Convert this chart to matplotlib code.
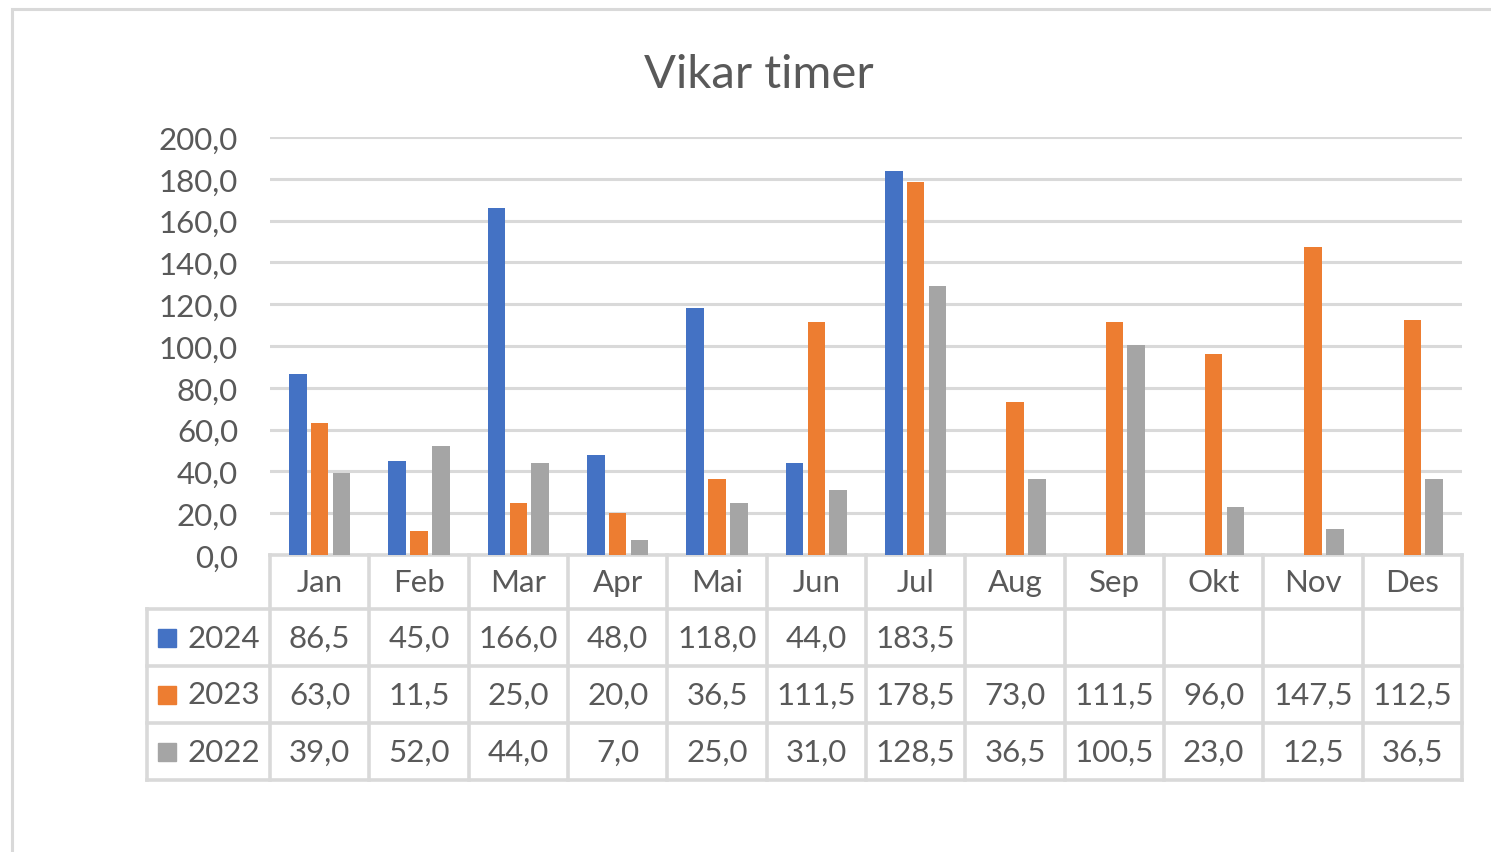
import matplotlib
matplotlib.use("Agg")
import matplotlib.pyplot as plt
import matplotlib.transforms as mtransforms
from matplotlib.patches import Rectangle
import numpy as np

plt.rcParams['font.family'] = ['Lato', 'DejaVu Sans']

# data
months = ["Jan", "Feb", "Mar", "Apr", "Mai", "Jun", "Jul", "Aug", "Sep", "Okt", "Nov", "Des"]
years = ["2024", "2023", "2022"]
v2024 = [86.5, 45.0, 166.0, 48.0, 118.0, 44.0, 183.5, None, None, None, None, None]
v2023 = [63.0, 11.5, 25.0, 20.0, 36.5, 111.5, 178.5, 73.0, 111.5, 96.0, 147.5, 112.5]
v2022 = [39.0, 52.0, 44.0, 7.0, 25.0, 31.0, 128.5, 36.5, 100.5, 23.0, 12.5, 36.5]
series = [v2024, v2023, v2022]
colors = ['#4472C4', '#ED7D31', '#A5A5A5']

txt = '#595959'
grid = '#D9D9D9'
W, H = 1491, 853
fs = 22.5

fig = plt.figure(figsize=(W / 100, H / 100), dpi=100)

# outer chart frame
fig.patches.append(Rectangle((12 / W, -0.1), 1.2, 1 - 10 / H + 0.1, transform=fig.transFigure,
                             fill=False, edgecolor=grid, linewidth=2.2))

ax = fig.add_axes([270 / W, (H - 556) / H, 1192 / W, (556 - 138) / H])
x = np.arange(len(months))
bw = 0.175
offs = [-0.22, 0.0, 0.22]
for vals, c, o in zip(series, colors, offs):
    h = [v if v is not None else 0 for v in vals]
    ax.bar(x + o, h, width=bw, color=c, zorder=3)

ax.set_xlim(-0.5, len(months) - 0.5)
ax.set_ylim(0, 200)
ax.set_yticks(np.arange(0, 201, 20))
ax.set_yticklabels([f"{t:.1f}".replace('.', ',') for t in np.arange(0, 201, 20)],
                   fontsize=fs, color=txt)
ax.tick_params(axis='y', length=0, pad=23)
ax.set_xticks([])
ax.grid(axis='y', color=grid, linewidth=2.2, zorder=0)
for s in ax.spines.values():
    s.set_visible(False)

fig.text(759 / W, 1 - 75 / H, "Vikar timer", fontsize=34, color=txt, ha='center', va='center')

# data table under the axis
tr = mtransforms.blended_transform_factory(ax.transData, ax.transAxes)
ah = 556 - 138
hdr = 54 / ah
rowh = 57 / ah
left = -0.5 - 123 / 99.33
y_hdr_bot = -hdr
y_bot = -hdr - 3 * rowh
lk = dict(color=grid, linewidth=2.6, transform=tr, clip_on=False, solid_capstyle='projecting')

# horizontal lines
ax.plot([-0.5, len(months) - 0.5], [0, 0], **lk)
for r in range(4):
    yy = -hdr - r * rowh
    ax.plot([left, len(months) - 0.5], [yy, yy], **lk)
# vertical lines
for i in range(len(months) + 1):
    ax.plot([i - 0.5, i - 0.5], [0, y_bot], **lk)
ax.plot([left, left], [y_hdr_bot, y_bot], **lk)

for i, m in enumerate(months):
    ax.text(i, -hdr / 2, m, transform=tr, ha='center', va='center', fontsize=fs, color=txt)

for r, (yr, vals, c) in enumerate(zip(years, series, colors)):
    yc = -hdr - (r + 0.5) * rowh
    ax.plot([left + 0.2], [yc], marker='s', markersize=12.5, color=c, transform=tr,
            clip_on=False, linestyle='none')
    ax.text(left + 0.41, yc, yr, transform=tr, ha='left', va='center', fontsize=fs, color=txt)
    for i, v in enumerate(vals):
        if v is None:
            continue
        ax.text(i, yc, f"{v:.1f}".replace('.', ','), transform=tr, ha='center', va='center',
                fontsize=fs, color=txt)

fig.savefig("out.png", dpi=100, facecolor='white')
